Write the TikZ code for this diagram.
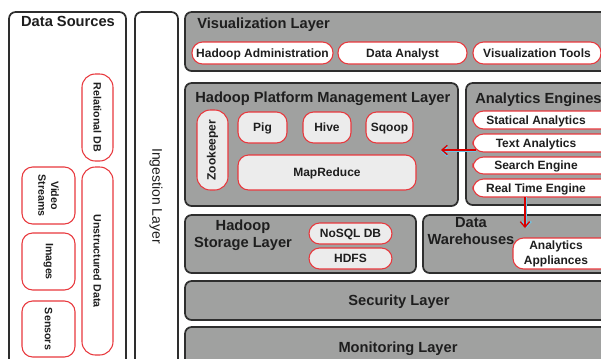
\documentclass[tikz,border=0pt]{standalone}
\usepackage{fontspec}
\setmainfont{Liberation Sans}
\usetikzlibrary{arrows.meta}
\definecolor{layergray}{HTML}{A0A1A0}
\definecolor{pillgray}{HTML}{ECECEC}
\definecolor{pillred}{HTML}{E8383D}
\definecolor{edgedark}{HTML}{2E2E2E}
\definecolor{txt}{HTML}{1E1E1E}
\definecolor{glow}{HTML}{6CC6E8}
\tikzset{
  layer/.style={draw=edgedark, line width=1.3pt, fill=layergray, rounded corners=5pt, inner sep=0pt},
  plain/.style={draw=edgedark, line width=1.3pt, fill=white, rounded corners=5pt, inner sep=0pt},
  pillw/.style={draw=pillred, line width=0.8pt, fill=white, rounded corners=8pt, inner sep=0pt, text=txt, font=\bfseries\fontsize{9}{10.5}\selectfont, align=center},
  pillg/.style={pillw, fill=pillgray},
  onel/.style={text depth=0pt},
  title/.style={text=txt, font=\bfseries\fontsize{11}{12.5}\selectfont, inner sep=0pt, align=center},
  vtext/.style={text=txt, rotate=-90, font=\bfseries\fontsize{8}{9.5}\selectfont, inner sep=0pt, align=center},
  flowred/.style={draw=red!85!black, line width=1pt, -{Straight Barb[length=4pt,width=7pt]}},
  flowglow/.style={draw=glow, line width=1.2pt, -{Straight Barb[length=4pt,width=7pt]}},
}
% \bx{name}{x1}{y1}{x2}{y2}{style}{text}
\newcommand\bx[7]{%
  \pgfmathsetmacro\bxw{(#4-#2)*0.75}%
  \pgfmathsetmacro\bxh{(#5-#3)*0.75}%
  \node[#6, minimum width=\bxw pt, minimum height=\bxh pt] (#1) at ({(#2+#4)/2},{(#3+#5)/2}) {#7};}
\begin{document}
\begin{tikzpicture}[x=0.75pt,y=-0.75pt]
\useasboundingbox (0,0) rectangle (601,358);
\clip (0,0) rectangle (601,358);
\fill[white] (0,0) rectangle (601,358);

% Data sources
\bx{ds}{9}{12}{126}{380}{plain}{}
\node[title, onel] (dst) at (68,21) {Data Sources};
\bx{rdb}{82}{74}{113}{161}{pillw, rounded corners=10pt}{}
\node[vtext] (rdbt) at (rdb) {Relational DB};
\bx{ud}{82}{167}{113}{355}{pillw, rounded corners=10pt}{}
\node[vtext] (udt) at (ud) {Unstructured Data};
\bx{vs}{22}{167}{75}{224}{pillw}{}
\node[vtext] (vst) at (vs) {Video\\Streams};
\bx{im}{22}{233}{75}{290}{pillw}{}
\node[vtext] (imt) at (im) {Images};
\bx{se}{22}{301}{75}{357}{pillw}{}
\node[vtext] (set) at (se) {Sensors};

% Ingestion
\bx{ing}{135}{12}{178}{380}{plain}{}
\node[vtext, font=\fontsize{10.5}{12}\selectfont] (ingt) at (156,196) {Ingestion Layer};

% Visualization layer
\bx{vis}{185}{12}{640}{71}{layer}{}
\node[title, onel, anchor=west] (vist) at (197,23) {Visualization Layer};
\bx{ha}{192}{42}{333}{64}{pillw, onel}{Hadoop Administration}
\bx{da}{338}{42}{467}{64}{pillw, onel}{Data Analyst}
\bx{vt}{473}{42}{601}{64}{pillw, onel}{Visualization Tools}

% Hadoop platform management
\bx{pm}{185}{83}{458}{206}{layer}{}
\node[title, onel, anchor=west] (pmt) at (195,97) {Hadoop Platform Management Layer};
\bx{zk}{197}{110}{228}{190}{pillg, rounded corners=10pt}{}
\node[vtext, rotate=180, font=\bfseries\fontsize{9}{10.5}\selectfont] (zkt) at (zk) {Zookeeper};
\bx{pig}{238}{112}{287}{143}{pillg, onel}{Pig}
\bx{hive}{303}{112}{351}{143}{pillg, onel}{Hive}
\bx{sq}{366}{112}{413}{143}{pillg, onel}{Sqoop}
\bx{mr}{238}{155}{416}{190}{pillg, onel}{MapReduce}

% Analytics engines
\bx{ae}{466}{83}{640}{205}{layer}{}
\node[title, onel, anchor=west] (aet) at (475,98) {Analytics Engines};
\bx{sa}{473}{111}{615}{129}{pillw, onel}{\hspace*{-12pt}Statical Analytics}
\bx{ta}{473}{134}{615}{152}{pillw, onel}{\hspace*{-12pt}Text Analytics}
\bx{sen}{473}{157}{615}{174}{pillw, onel}{\hspace*{-12pt}Search Engine}
\bx{rt}{473}{179}{615}{197}{pillw, onel}{\hspace*{-12pt}Real Time Engine}

% Storage
\bx{st}{185}{215}{416}{273}{layer}{}
\node[title] (stt) at (243,235) {Hadoop\\Storage Layer};
\bx{nosql}{309}{223}{392}{244}{pillg, onel}{NoSQL DB}
\bx{hdfs}{309}{248}{392}{269}{pillg, onel}{HDFS}

% Data warehouses
\bx{dw}{423}{215}{640}{273}{layer}{}
\node[title] (dwt) at (471,231) {Data\\Warehouses};
\bx{aa}{513}{238}{615}{269}{pillw}{\hspace*{-12pt}\shortstack{Analytics\\Appliances}}

% Security / Monitoring
\bx{sec}{185}{281}{613}{320}{layer}{}
\node[title, onel] (sect) at (sec) {Security Layer};
\bx{mon}{185}{327}{613}{380}{layer}{}
\node[title, onel] (mont) at (398,347) {Monitoring Layer};

% arrows
\coordinate (a1s) at (476,150);
\coordinate (a1e) at (441,150);
\coordinate (a1sg) at (476,151.5);
\coordinate (a1eg) at (441,151.5);
\draw[flowglow] (a1sg) -- (a1eg);
\draw[flowred] (a1s) -- (a1e);
\coordinate (a2s) at (525,197);
\coordinate (a2e) at (525,228);
\coordinate (a2sg) at (526.5,197);
\coordinate (a2eg) at (526.5,228);
\draw[flowglow] (a2sg) -- (a2eg);
\draw[flowred] (a2s) -- (a2e);
\end{tikzpicture}
\end{document}
